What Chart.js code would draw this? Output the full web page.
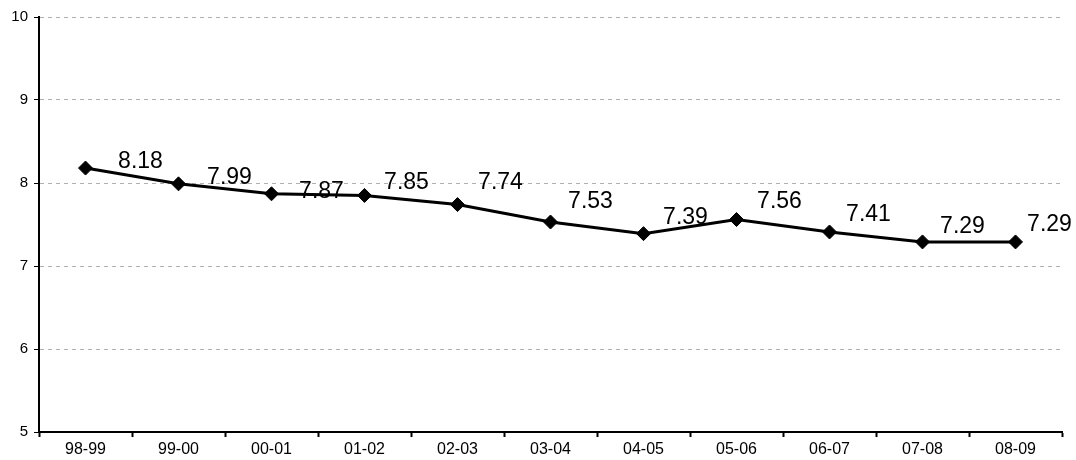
<!DOCTYPE html>
<html>
<head>
<meta charset="utf-8">
<script src="https://cdn.jsdelivr.net/npm/chart.js@4"></script>
<style>
  html, body { margin: 0; padding: 0; background: #ffffff; }
  #wrap { width: 1076px; height: 460px; }
</style>
</head>
<body>
<div id="wrap"><canvas id="lineChart"></canvas></div>
<script>
// data
const categories = ["98-99", "99-00", "00-01", "01-02", "02-03", "03-04", "04-05", "05-06", "06-07", "07-08", "08-09"];
const values = [8.18, 7.99, 7.87, 7.85, 7.74, 7.53, 7.39, 7.56, 7.41, 7.29, 7.29];
const yTicks = [5, 6, 7, 8, 9, 10];

// where each value label sits relative to its point (dx, dy in px)
const labelOffsets = [[55, -6], [51, -6], [50, -2], [42, -13], [43, -22], [40, -20], [42, -16], [43, -18], [39, -17], [40, -15], [34, -17]];

const FONT = "'Liberation Sans', Arial, sans-serif";

// draws the value next to every point
const valueLabels = {
    id: "valueLabels",
    afterDatasetsDraw(chart) {
        const ctx = chart.ctx;
        const meta = chart.getDatasetMeta(0);
        ctx.save();
        ctx.font = "23px " + FONT;
        ctx.fillStyle = "#000000";
        ctx.textAlign = "center";
        ctx.textBaseline = "middle";
        meta.data.forEach((pt, i) => {
            const off = labelOffsets[i] || [40, -16];
            ctx.fillText(values[i].toFixed(2), pt.x + off[0], pt.y + off[1]);
        });
        ctx.restore();
    }
};

new Chart(document.getElementById("lineChart"), {
    type: "line",
    data: {
        labels: categories,
        datasets: [{
            data: values,
            borderColor: "#000000",
            borderWidth: 3,
            tension: 0,
            pointStyle: "rectRot",
            pointRadius: 7,
            pointBackgroundColor: "#000000",
            pointBorderColor: "#000000",
            pointBorderWidth: 1,
            fill: false
        }]
    },
    options: {
        responsive: true,
        maintainAspectRatio: false,
        animation: false,
        layout: { padding: { top: 17, right: 14, bottom: 0, left: 0 } },
        plugins: {
            legend: { display: false },
            tooltip: { enabled: false }
        },
        scales: {
            x: {
                offset: true,
                grid: {
                    offset: true,
                    drawOnChartArea: false,
                    tickLength: 5,
                    tickColor: "#000000",
                    tickWidth: 2
                },
                border: { color: "#000000", width: 2 },
                ticks: {
                    color: "#000000",
                    padding: 3,
                    maxRotation: 0,
                    autoSkip: false,
                    font: { family: FONT, size: 16 }
                },
                afterFit(scale) { scale.height = 28; }
            },
            y: {
                min: 5,
                max: 10,
                afterBuildTicks(scale) {
                    scale.ticks = yTicks.map(v => ({ value: v }));
                },
                grid: {
                    color: ctx => (ctx.tick && ctx.tick.value === 5) ? "rgba(0,0,0,0)" : "#b0b0b0",
                    lineWidth: 1,
                    tickLength: 5,
                    tickColor: "#000000",
                    tickWidth: 1,
                    tickBorderDash: []
                },
                border: { color: "#000000", width: 2, dash: [4, 4] },
                ticks: {
                    color: "#000000",
                    padding: 6,
                    font: { family: FONT, size: 15 }
                },
                afterFit(scale) { scale.width = 39; }
            }
        }
    },
    plugins: [valueLabels]
});
</script>
</body>
</html>
